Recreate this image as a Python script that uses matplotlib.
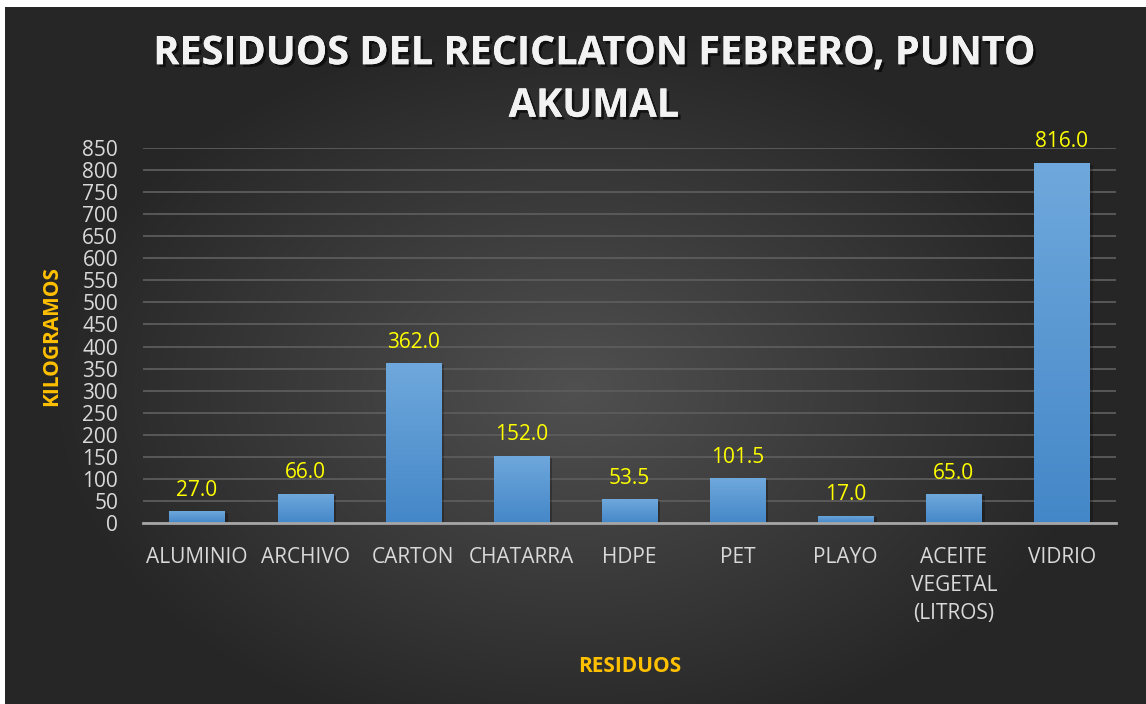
import numpy as np
import matplotlib
matplotlib.use("Agg")
import matplotlib.pyplot as plt
import matplotlib.patheffects as pe
from matplotlib.colors import LinearSegmentedColormap

categories = ["ALUMINIO", "ARCHIVO", "CARTON", "CHATARRA", "HDPE", "PET", "PLAYO",
              "ACEITE\nVEGETAL\n(LITROS)", "VIDRIO"]
values = [27.0, 66.0, 362.0, 152.0, 53.5, 101.5, 17.0, 65.0, 816.0]
yticks = list(range(0, 851, 50))
title = "RESIDUOS DEL RECICLATON FEBRERO, PUNTO\nAKUMAL"
xlabel = "RESIDUOS"
ylabel = "KILOGRAMOS"

W, H = 1146, 704
fig = plt.figure(figsize=(W / 100, H / 100), dpi=100)
fig.patch.set_facecolor("white")

# background with radial gradient
bg = fig.add_axes([5 / W, 0, 1 - 5 / W, 1 - 7 / H])
bg.set_axis_off()
yy, xx = np.mgrid[0:1:400j, 0:1:600j]
r = np.sqrt(((xx - 0.5) / 0.75) ** 2 + ((yy - 0.45) / 0.85) ** 2)
r = np.clip(r / 0.62, 0, 1)
c0 = np.array([0x50, 0x50, 0x50]) / 255
c1 = np.array([0x26, 0x26, 0x26]) / 255
img = c0[None, None, :] * (1 - r[..., None]) + c1[None, None, :] * r[..., None]
bg.imshow(img, aspect="auto", extent=[0, 1, 0, 1], origin="lower")
bg.set_xlim(0, 1)
bg.set_ylim(0, 1)

font = "Open Sans"
x0, x1 = 143, 1116
ytop, ybot = 148, 523
ax = fig.add_axes([x0 / W, 1 - ybot / H, (x1 - x0) / W, (ybot - ytop) / H])
ax.set_facecolor("none")

x = np.arange(len(categories))
bars = ax.bar(x, values, width=0.51, color="#5b9bd5", zorder=3, linewidth=0)
grad = np.linspace(0, 1, 256)[:, None]
cmap = LinearSegmentedColormap.from_list("b", ["#4487c8", "#6fa8dc"])
for b in bars:
    bx, by = b.get_x(), b.get_y()
    bw, bh = b.get_width(), b.get_height()
    ax.bar(bx + bw / 2 + 0.03, bh, width=bw, bottom=-4, color="black", alpha=0.25,
           zorder=2, linewidth=0)
    im = ax.imshow(grad, cmap=cmap, aspect="auto", origin="lower",
                   extent=[bx, bx + bw, by, by + bh], zorder=3.5)
    im.set_clip_path(b)
ax.set_xlim(-0.5, len(categories) - 0.5)
ax.set_ylim(0, 850)

for xi, v in zip(x, values):
    ax.text(xi, v + 24, f"{v:.1f}", ha="center", va="bottom", color="#ffff00",
            fontsize=15, family=font, zorder=5)

ax.set_yticks(yticks)
ax.yaxis.grid(True, color="#5c5c5c", linewidth=1.3, zorder=0)
ax.set_axisbelow(True)
for s in ["top", "right", "left"]:
    ax.spines[s].set_visible(False)
ax.spines["bottom"].set_color("#a6a6a6")
ax.spines["bottom"].set_linewidth(2)
ax.spines["bottom"].set_zorder(6)
ax.tick_params(axis="both", length=0, colors="#d9d9d9", labelsize=15)
ax.tick_params(axis="y", pad=18)
ax.tick_params(axis="x", pad=17)
ax.set_xticks(x)
ax.set_xticklabels(categories, family=font, fontsize=15, color="#d9d9d9",
                   linespacing=1.45, va="top")
for lbl in ax.get_yticklabels():
    lbl.set_family(font)

ax.set_xlabel(xlabel, color="#ffc000", fontsize=15, fontweight="bold", family=font)
ax.xaxis.set_label_coords(0.5, (ybot - 656) / (ybot - ytop))
ax.set_ylabel(ylabel, color="#ffc000", fontsize=15, fontweight="bold", family=font)
ax.yaxis.set_label_coords((62 - x0) / (x1 - x0), 0.5)

fig.text(594 / W, 1 - 80 / H, title, ha="center", va="center", color="#f2f2f2",
         fontsize=28.5, fontweight="bold", family=font, linespacing=1.45,
         path_effects=[pe.withSimplePatchShadow(offset=(2, -2), shadow_rgbFace="black",
                                                alpha=0.6), pe.Normal()])

fig.savefig("out.png", dpi=100, facecolor=fig.get_facecolor())
